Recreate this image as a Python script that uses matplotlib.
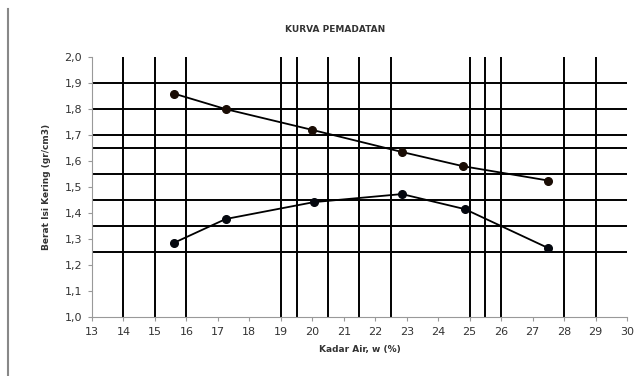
import matplotlib
matplotlib.use('Agg')
import matplotlib.pyplot as plt
from matplotlib.lines import Line2D

# data
kadar_air_atas = [15.6, 17.25, 20.0, 22.85, 24.8, 27.5]
berat_isi_atas = [1.86, 1.80, 1.72, 1.635, 1.58, 1.525]

kadar_air_bawah = [15.6, 17.25, 20.05, 22.85, 24.85, 27.5]
berat_isi_bawah = [1.285, 1.377, 1.442, 1.473, 1.415, 1.265]

garis_horizontal = [1.9, 1.8, 1.7, 1.65, 1.55, 1.45, 1.35, 1.25]
garis_vertikal = [14, 15, 16, 19, 19.5, 20.5, 21.5, 22.5, 25, 25.5, 26, 28, 29]

x_ticks = list(range(13, 31))
y_ticks = [1.0, 1.1, 1.2, 1.3, 1.4, 1.5, 1.6, 1.7, 1.8, 1.9, 2.0]
y_labels = ['1,0', '1,1', '1,2', '1,3', '1,4', '1,5', '1,6', '1,7', '1,8', '1,9', '2,0']

fig = plt.figure(figsize=(6.34, 3.76), dpi=100)
ax = fig.add_axes([0.145, 0.157, 0.844, 0.691])

for y in garis_horizontal:
    ax.axhline(y, color='black', lw=1.4, zorder=1)
for x in garis_vertikal:
    ax.axvline(x, color='black', lw=1.4, zorder=1)

ax.plot(kadar_air_atas, berat_isi_atas, color='black', lw=1.3, zorder=2)
ax.plot(kadar_air_atas, berat_isi_atas, 'o', color='#1a0d05', ms=5.5, zorder=3)
ax.plot(kadar_air_bawah, berat_isi_bawah, color='black', lw=1.3, zorder=2)
ax.plot(kadar_air_bawah, berat_isi_bawah, 'o', color='#05080f', ms=5.5, zorder=3)

ax.set_xlim(13, 30)
ax.set_ylim(1.0, 2.0)
ax.set_xticks(x_ticks)
ax.set_xticklabels([str(v) for v in x_ticks], fontsize=8, color='#333333')
ax.set_yticks(y_ticks)
ax.set_yticklabels(y_labels, fontsize=8, color='#333333')
ax.tick_params(length=3, color='#999999', pad=4)

for side in ['top', 'right']:
    ax.spines[side].set_visible(False)
for side in ['left', 'bottom']:
    ax.spines[side].set_color('#999999')

ax.set_title('KURVA PEMADATAN', fontsize=6.5, fontweight='bold', color='#333333',
             pad=18, x=0.454)
ax.set_xlabel('Kadar Air, w (%)', fontsize=6.5, fontweight='bold', color='#333333', labelpad=6)
ax.set_ylabel('Berat Isi Kering (gr/cm3)', fontsize=6.5, fontweight='bold', color='#333333', labelpad=10)

# frame line at the left edge
fig.add_artist(Line2D([0.013, 0.013], [0.0, 0.975], transform=fig.transFigure,
                      color='#888888', lw=1.5))

fig.savefig('out.png', dpi=100)
